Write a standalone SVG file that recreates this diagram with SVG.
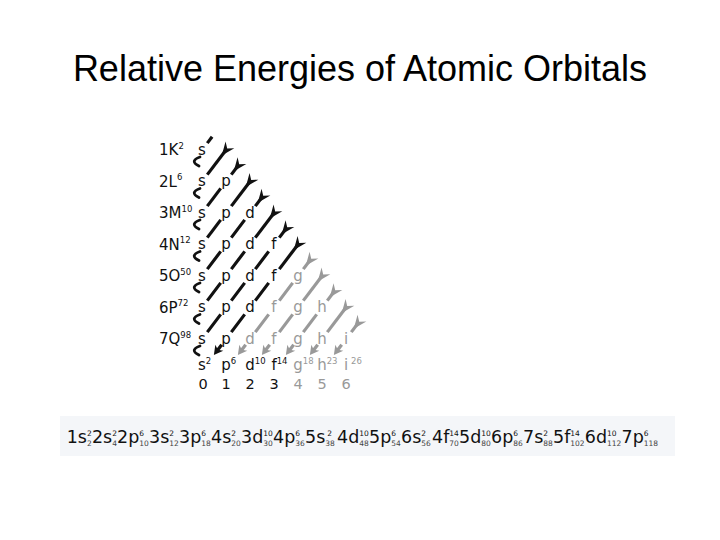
<svg xmlns="http://www.w3.org/2000/svg" width="720" height="540" viewBox="0 0 720 540">
<style>
  text { font-family: "DejaVu Sans", "Liberation Sans", sans-serif; }
  .title { font-family: "Liberation Sans", Arial, sans-serif; font-size: 36px; fill: #000; }
  .lbl { font-size: 15px; fill: #111; }
  .sup { font-size: 8.5px; }
  .b { fill: #111; }
  .g { fill: #999; }
  .lt { font-size: 15px; text-anchor: middle; }
  .num { font-size: 14.5px; text-anchor: middle; }
  .lnb { stroke: #111; stroke-width: 3.2; fill: none; }
  .lng { stroke: #999; stroke-width: 3.2; fill: none; }
  .hk { stroke: #111; stroke-width: 2.8; fill: none; stroke-linecap: round; }
  .fm { font-size: 17.5px; fill: #111; }
  .fs { font-size: 7.5px; fill: #111; }
  .fb { font-size: 7.5px; fill: #444; }
</style>
<defs>
  <marker id="flb" viewBox="-8 -7 16 14" refX="0" refY="0" markerWidth="16" markerHeight="14" markerUnits="userSpaceOnUse" orient="auto">
    <path d="M7,0 L-6.5,-5.5 L-2,0 L-6.5,5.5 Z" fill="#111"/>
  </marker>
  <marker id="flg" viewBox="-8 -7 16 14" refX="0" refY="0" markerWidth="16" markerHeight="14" markerUnits="userSpaceOnUse" orient="auto">
    <path d="M7,0 L-6.5,-5.5 L-2,0 L-6.5,5.5 Z" fill="#999"/>
  </marker>
  <marker id="ahb" viewBox="-10 -6 11 12" refX="-5" refY="0" markerWidth="11" markerHeight="12" markerUnits="userSpaceOnUse" orient="auto">
    <path d="M0,0 L-9,-5 L-6.5,0 L-9,5 Z" fill="#111"/>
  </marker>
  <marker id="ahg" viewBox="-10 -6 11 12" refX="-5" refY="0" markerWidth="11" markerHeight="12" markerUnits="userSpaceOnUse" orient="auto">
    <path d="M0,0 L-9,-5 L-6.5,0 L-9,5 Z" fill="#999"/>
  </marker>
</defs>
<rect width="720" height="540" fill="#fff"/>

<g id="title">
  <text class="title" x="360" y="81" text-anchor="middle">Relative Energies of Atomic Orbitals</text>
</g>

<g id="row-labels">
  <text class="lbl" x="159" y="155">1K<tspan class="sup" dy="-6.5">2</tspan></text>
  <text class="lbl" x="159" y="186.5">2L<tspan class="sup" dy="-6.5">6</tspan></text>
  <text class="lbl" x="159" y="218">3M<tspan class="sup" dy="-6.5">10</tspan></text>
  <text class="lbl" x="159" y="249.5">4N<tspan class="sup" dy="-6.5">12</tspan></text>
  <text class="lbl" x="159" y="281">5O<tspan class="sup" dy="-6.5">50</tspan></text>
  <text class="lbl" x="159" y="312.5">6P<tspan class="sup" dy="-6.5">72</tspan></text>
  <text class="lbl" x="159" y="344">7Q<tspan class="sup" dy="-6.5">98</tspan></text>
</g>

<g id="connectors">
  <path class="lnb" d="M212.1,136.8 L207.3,143.1"/>
  <path class="lnb" marker-start="url(#flb)" d="M226,150 L207.3,174.6"/>
  <path class="lnb" marker-start="url(#flb)" d="M238,165.8 L231.3,174.6"/>
  <path class="lnb" d="M220.7,188.4 L207.3,206.1"/>
  <path class="lnb" marker-start="url(#flb)" d="M250,181.5 L231.3,206.1"/>
  <path class="lnb" d="M220.7,219.9 L207.3,237.6"/>
  <path class="lnb" marker-start="url(#flb)" d="M262,197.3 L255.3,206.1"/>
  <path class="lnb" d="M244.7,219.9 L231.3,237.6 M220.7,251.4 L207.3,269.1"/>
  <path class="lnb" marker-start="url(#flb)" d="M274,213 L255.3,237.6"/>
  <path class="lnb" d="M244.7,251.4 L231.3,269.1 M220.7,282.9 L207.3,300.6"/>
  <path class="lnb" marker-start="url(#flb)" d="M286,228.8 L279.3,237.6"/>
  <path class="lnb" d="M268.7,251.4 L255.3,269.1 M244.7,282.9 L231.3,300.6 M220.7,314.4 L207.3,332.1"/>
  <path class="lnb" marker-start="url(#flb)" d="M298,244.5 L279.3,269.1"/>
  <path class="lnb" d="M268.7,282.9 L255.3,300.6 M244.7,314.4 L231.3,332.1"/>
  <path class="lnb" marker-end="url(#ahb)" d="M221.7,344.7 L216.9,351"/>
  <path class="lng" marker-start="url(#flg)" d="M310,260.3 L303.3,269.1"/>
  <path class="lng" d="M292.7,282.9 L279.3,300.6 M268.7,314.4 L255.3,332.1"/>
  <path class="lng" marker-end="url(#ahg)" d="M245.7,344.7 L240.9,351"/>
  <path class="lng" marker-start="url(#flg)" d="M322,276 L303.3,300.6"/>
  <path class="lng" d="M292.7,314.4 L279.3,332.1"/>
  <path class="lng" marker-end="url(#ahg)" d="M269.7,344.7 L264.9,351"/>
  <path class="lng" marker-start="url(#flg)" d="M334,291.8 L327.3,300.6"/>
  <path class="lng" d="M316.7,314.4 L303.3,332.1"/>
  <path class="lng" marker-end="url(#ahg)" d="M293.7,344.7 L288.9,351"/>
  <path class="lng" marker-start="url(#flg)" d="M346,307.5 L327.3,332.1"/>
  <path class="lng" marker-end="url(#ahg)" d="M317.7,344.7 L312.9,351"/>
  <path class="lng" marker-start="url(#flg)" d="M358,323.3 L351.3,332.1"/>
  <path class="lng" marker-end="url(#ahg)" d="M341.7,344.7 L336.9,351"/>
  <path class="hk" d="M200,157 Q189,161 199,166"/>
  <path class="hk" d="M200,188.5 Q189,192.5 199,197.5"/>
  <path class="hk" d="M200,220 Q189,224 199,229"/>
  <path class="hk" d="M200,251.5 Q189,255.5 199,260.5"/>
  <path class="hk" d="M200,283 Q189,287 199,292"/>
  <path class="hk" d="M200,314.5 Q189,318.5 199,323.5"/>
  <path class="hk" d="M200,346 Q189,350 199,355"/>
</g>

<g id="orbitals">
  <g id="n1"><text class="lt b" x="202" y="154.5">s</text></g>
  <g id="n2"><text class="lt b" x="202" y="186">s</text><text class="lt b" x="226" y="186">p</text></g>
  <g id="n3"><text class="lt b" x="202" y="217.5">s</text><text class="lt b" x="226" y="217.5">p</text><text class="lt b" x="250" y="217.5">d</text></g>
  <g id="n4"><text class="lt b" x="202" y="249">s</text><text class="lt b" x="226" y="249">p</text><text class="lt b" x="250" y="249">d</text><text class="lt b" x="274" y="249">f</text></g>
  <g id="n5"><text class="lt b" x="202" y="280.5">s</text><text class="lt b" x="226" y="280.5">p</text><text class="lt b" x="250" y="280.5">d</text><text class="lt b" x="274" y="280.5">f</text><text class="lt g" x="298" y="280.5">g</text></g>
  <g id="n6"><text class="lt b" x="202" y="312">s</text><text class="lt b" x="226" y="312">p</text><text class="lt b" x="250" y="312">d</text><text class="lt g" x="274" y="312">f</text><text class="lt g" x="298" y="312">g</text><text class="lt g" x="322" y="312">h</text></g>
  <g id="n7"><text class="lt b" x="202" y="343.5">s</text><text class="lt b" x="226" y="343.5">p</text><text class="lt g" x="250" y="343.5">d</text><text class="lt g" x="274" y="343.5">f</text><text class="lt g" x="298" y="343.5">g</text><text class="lt g" x="322" y="343.5">h</text><text class="lt g" x="346" y="343.5">i</text></g>
</g>

<g id="bottom-labels">
  <text class="b" font-size="15" x="198" y="370">s<tspan class="sup" dy="-6.5">2</tspan></text>
  <text class="b" font-size="15" x="221.2" y="370">p<tspan class="sup" dy="-6.5">6</tspan></text>
  <text class="b" font-size="15" x="245.2" y="370">d<tspan class="sup" dy="-6.5">10</tspan></text>
  <text class="b" font-size="15" x="271.4" y="370">f<tspan class="sup" dy="-6.5">14</tspan></text>
  <text class="g" font-size="15" x="293.2" y="370">g<tspan class="sup" dy="-6.5">18</tspan></text>
  <text class="g" font-size="15" x="317.2" y="370">h<tspan class="sup" dy="-6.5">23</tspan></text>
  <text class="g" font-size="15" x="343.9" y="370">i<tspan class="sup" dx="3" dy="-6.5">26</tspan></text>
  <text class="num b" x="203" y="389">0</text>
  <text class="num b" x="226" y="389">1</text>
  <text class="num b" x="250" y="389">2</text>
  <text class="num b" x="274" y="389">3</text>
  <text class="num g" x="298" y="389">4</text>
  <text class="num g" x="322" y="389">5</text>
  <text class="num g" x="346" y="389">6</text>
</g>

<g id="formula">
  <rect x="60" y="416" width="615" height="40" fill="#f4f6f9"/>
  <text class="fm" x="66.7" y="443">1s</text><text class="fs" x="86.95" y="436">2</text><text class="fb" x="86.95" y="446">2</text>
  <text class="fm" x="91.9" y="443">2s</text><text class="fs" x="112.15" y="436">2</text><text class="fb" x="112.15" y="446">4</text>
  <text class="fm" x="117.1" y="443">2p</text><text class="fs" x="139.35" y="436">6</text><text class="fb" x="139.35" y="446">10</text>
  <text class="fm" x="149.1" y="443">3s</text><text class="fs" x="169.35" y="436">2</text><text class="fb" x="169.35" y="446">12</text>
  <text class="fm" x="179.1" y="443">3p</text><text class="fs" x="201.35" y="436">6</text><text class="fb" x="201.35" y="446">18</text>
  <text class="fm" x="211.1" y="443">4s</text><text class="fs" x="231.35" y="436">2</text><text class="fb" x="231.35" y="446">20</text>
  <text class="fm" x="241.1" y="443">3d</text><text class="fs" x="263.35" y="436">10</text><text class="fb" x="263.35" y="446">30</text>
  <text class="fm" x="273.1" y="443">4p</text><text class="fs" x="295.35" y="436">6</text><text class="fb" x="295.35" y="446">36</text>
  <text class="fm" x="305" y="443">5s</text><text class="fs" x="327.25" y="436">2</text><text class="fb" x="325.25" y="446">38</text>
  <text class="fm" x="337" y="443">4d</text><text class="fs" x="359.25" y="436">10</text><text class="fb" x="359.25" y="446">48</text>
  <text class="fm" x="369" y="443">5p</text><text class="fs" x="391.25" y="436">6</text><text class="fb" x="391.25" y="446">54</text>
  <text class="fm" x="401" y="443">6s</text><text class="fs" x="421.25" y="436">2</text><text class="fb" x="421.25" y="446">56</text>
  <text class="fm" x="432" y="443">4f</text><text class="fs" x="449.3" y="436">14</text><text class="fb" x="449.3" y="446">70</text>
  <text class="fm" x="459" y="443">5d</text><text class="fs" x="481.25" y="436">10</text><text class="fb" x="481.25" y="446">80</text>
  <text class="fm" x="491" y="443">6p</text><text class="fs" x="513.25" y="436">6</text><text class="fb" x="513.25" y="446">86</text>
  <text class="fm" x="523" y="443">7s</text><text class="fs" x="543.25" y="436">2</text><text class="fb" x="543.25" y="446">88</text>
  <text class="fm" x="553" y="443">5f</text><text class="fs" x="570.3" y="436">14</text><text class="fb" x="570.3" y="446">102</text>
  <text class="fm" x="584.8" y="443">6d</text><text class="fs" x="607.05" y="436">10</text><text class="fb" x="607.05" y="446">112</text>
  <text class="fm" x="621.5" y="443">7p</text><text class="fs" x="643.75" y="436">6</text><text class="fb" x="643.75" y="446">118</text>
</g>
</svg>
